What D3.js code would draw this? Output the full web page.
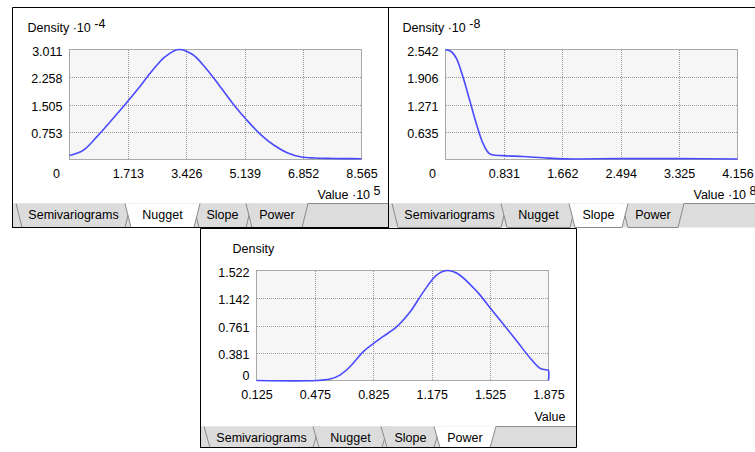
<!DOCTYPE html>
<html><head><meta charset="utf-8">
<script src="https://cdn.jsdelivr.net/npm/d3@7"></script>
<style>
html,body{margin:0;padding:0;background:#fff;}
svg{display:block;font-family:"Liberation Sans",Arial,sans-serif;}
</style></head><body>
<svg id="c" width="755" height="452"></svg>
<script>
// ---------------- data ----------------
const tabNames = ["Semivariograms", "Nugget", "Slope", "Power"];

// Nugget: value x10^5, density x10^-4
const nuggetX = [0, 0.4, 0.8, 1.2, 1.6, 2.0, 2.4, 2.8, 3.2, 3.6, 4.0, 4.4, 4.8, 5.2, 5.6, 6.0, 6.4, 6.8, 7.2, 7.6, 8.0, 8.565];
const nuggetY = [0.11, 0.25, 0.62, 1.04, 1.47, 1.92, 2.40, 2.81, 3.011, 2.88, 2.50, 2.02, 1.52, 1.08, 0.69, 0.39, 0.18, 0.07, 0.04, 0.03, 0.025, 0.02];
const nuggetXTicks = [0, 1.713, 3.426, 5.139, 6.852, 8.565];
const nuggetYTicks = [0.753, 1.505, 2.258, 3.011];

// Slope: value x10^8, density x10^-8
const slopeX = [0, 0.085, 0.157, 0.25, 0.346, 0.44, 0.537, 0.63, 0.82, 1.1, 1.39, 1.68, 2.49, 3.3, 4.156];
const slopeY = [2.542, 2.49, 2.33, 1.90, 1.36, 0.82, 0.36, 0.13, 0.09, 0.07, 0.04, 0.015, 0.02, 0.02, 0.01];
const slopeXTicks = [0, 0.831, 1.662, 2.494, 3.325, 4.156];
const slopeYTicks = [0.635, 1.271, 1.906, 2.542];

// Power
const powerX = [0.125, 0.485, 0.565, 0.625, 0.685, 0.765, 0.825, 0.885, 0.966, 1.046, 1.126, 1.206, 1.266, 1.327, 1.447, 1.527, 1.607, 1.687, 1.767, 1.827, 1.867, 1.875, 1.875];
const powerY = [0, 0, 0.02, 0.075, 0.19, 0.40, 0.51, 0.61, 0.745, 0.95, 1.23, 1.46, 1.522, 1.485, 1.23, 1.0, 0.77, 0.54, 0.305, 0.165, 0.145, 0.14, 0];
const powerXTicks = [0.125, 0.475, 0.825, 1.175, 1.525, 1.875];
const powerYTicks = [0, 0.381, 0.761, 1.142, 1.522];

// ---------------- layout ----------------
const FONT = 12.5;
const tabGeom = [[4, 119], [113, 188], [181, 240], [234, 296]]; // relative to panel left (top edge)
const panels = [
  {box: {x0: 12.5, y0: 7.5, x1: 388.5, y1: 227.5}, bottomBorder: true, barTop: 203.5,
   xr: [69.5, 361.5], yr: [159.5, 49.5], xs: nuggetX, ys: nuggetY, xt: nuggetXTicks, yt: nuggetYTicks,
   yLabel: "Density ·10", yExp: "-4", xLabel: "Value ·10", xExp: "5", sel: 1, dLabelDx: -42, vLabelDx: 19, vLabelDy: 39},
  {box: {x0: 388.5, y0: 7.5, x1: 764.5, y1: 227.5}, bottomBorder: false, barTop: 203.5,
   xr: [445.5, 737.5], yr: [159.5, 49.5], xs: slopeX, ys: slopeY, xt: slopeXTicks, yt: slopeYTicks,
   yLabel: "Density ·10", yExp: "-8", xLabel: "Value ·10", xExp: "8", sel: 2, dLabelDx: -43, vLabelDx: 19, vLabelDy: 39},
  {box: {x0: 200.5, y0: 228.5, x1: 576.5, y1: 447.5}, bottomBorder: true, barTop: 426.5,
   xr: [256.5, 548.5], yr: [380.5, 270.5], xs: powerX, ys: powerY, xt: powerXTicks, yt: powerYTicks,
   yLabel: "Density", yExp: null, xLabel: "Value", xExp: null, sel: 3, dLabelDx: -24, vLabelDx: 17, vLabelDy: 40}
];

const svg = d3.select("#c");
const fmt = d3.format(".3f");

panels.forEach(p => {
  const g = svg.append("g");
  const x = d3.scaleLinear().domain([p.xt[0], p.xt[p.xt.length - 1]]).range(p.xr);
  const y = d3.scaleLinear().domain([0, p.yt[p.yt.length - 1]]).range(p.yr);

  // ---- tab bar ----
  const bx0 = p.box.x0, bx1 = p.box.x1, bt = p.barTop, bb = p.box.y1;
  g.append("rect").attr("x", bx0).attr("y", bt).attr("width", bx1 - bx0).attr("height", bb - bt).attr("fill", "#dcdcdc");
  const slant = 6;
  const order = tabNames.map((n, i) => i).filter(i => i !== p.sel).concat([p.sel]);
  order.forEach(i => {
    const tx0 = bx0 + tabGeom[i][0] - 0.5, tx1 = bx0 + tabGeom[i][1] - 0.5;
    const shape = `M${tx0},${bt} L${tx0 + slant},${bb} L${tx1 - slant},${bb} L${tx1},${bt}`;
    g.append("path").attr("d", shape + "Z").attr("fill", i === p.sel ? "#ffffff" : "#dcdcdc").attr("stroke", "none");
    g.append("path").attr("d", shape).attr("fill", "none").attr("stroke", "#8a8a8a").attr("stroke-width", 1);
    g.append("text").attr("x", (tx0 + tx1) / 2).attr("y", bt + 15.5).attr("text-anchor", "middle")
      .attr("font-size", FONT).attr("fill", "#000").text(tabNames[i]);
  });
  const lastRight = bx0 + tabGeom[3][1] - 0.5;
  g.append("line").attr("x1", lastRight).attr("x2", bx1).attr("y1", bt).attr("y2", bt).attr("stroke", "#8a8a8a");

  // ---- plot area ----
  g.append("rect").attr("x", p.xr[0]).attr("y", p.yr[1]).attr("width", p.xr[1] - p.xr[0]).attr("height", p.yr[0] - p.yr[1])
    .attr("fill", "#f6f6f6");
  // grid (dotted)
  g.append("g").selectAll("line").data(p.xt.slice(1, -1)).join("line")
    .attr("x1", d => Math.round(x(d)) + 0.5).attr("x2", d => Math.round(x(d)) + 0.5)
    .attr("y1", p.yr[1] + 0.5).attr("y2", p.yr[0] - 0.5)
    .attr("stroke", "#999").attr("stroke-dasharray", "1,1").attr("shape-rendering", "crispEdges");
  g.append("g").selectAll("line").data(p.yt.filter(d => d > 0).slice(0, -1)).join("line")
    .attr("y1", d => Math.round(y(d)) + 0.5).attr("y2", d => Math.round(y(d)) + 0.5)
    .attr("x1", p.xr[0] + 0.5).attr("x2", p.xr[1] - 0.5)
    .attr("stroke", "#999").attr("stroke-dasharray", "1,1").attr("shape-rendering", "crispEdges");
  g.append("rect").attr("x", p.xr[0]).attr("y", p.yr[1]).attr("width", p.xr[1] - p.xr[0]).attr("height", p.yr[0] - p.yr[1])
    .attr("fill", "none").attr("stroke", "#a8a8a8");

  // curve
  const pts = p.xs.map((v, i) => [v, p.ys[i]]);
  const line = d3.line().x(d => x(d[0])).y(d => y(d[1])).curve(d3.curveCatmullRom.alpha(0.5));
  g.append("path").attr("d", line(pts)).attr("fill", "none").attr("stroke", "#4a4aff").attr("stroke-width", 1.6);

  // axes
  const xa = g.append("g").attr("transform", `translate(0,${p.yr[0]})`)
    .call(d3.axisBottom(x).tickValues(p.xt).tickFormat(d => d === 0 ? "0" : fmt(d)).tickSize(0).tickPadding(10));
  const ya = g.append("g").attr("transform", `translate(${p.xr[0]},0)`)
    .call(d3.axisLeft(y).tickValues(p.yt).tickFormat(d => d === 0 ? "0" : fmt(d)).tickSize(0).tickPadding(7));
  [xa, ya].forEach(a => {
    a.select(".domain").remove();
    a.selectAll("text").attr("font-size", FONT).attr("font-family", "Liberation Sans, Arial, sans-serif").attr("fill", "#000");
  });
  ya.selectAll("text").attr("dy", "0.45em");
  xa.selectAll(".tick").filter(d => d === 0).select("text").attr("text-anchor", "end").attr("x", -10);
  ya.selectAll(".tick").filter(d => d === 0).select("text").attr("dy", "-0.05em");

  // axis titles
  const dt = g.append("text").attr("x", p.xr[0] + p.dLabelDx).attr("y", p.yr[1] - 18).attr("font-size", FONT).attr("fill", "#000");
  dt.append("tspan").text(p.yLabel);
  if (p.yExp) { dt.append("tspan").text(" "); dt.append("tspan").attr("dy", -3.5).text(p.yExp); }
  const vt = g.append("text").attr("x", p.xr[1] + p.vLabelDx).attr("y", p.yr[0] + p.vLabelDy).attr("text-anchor", "end")
    .attr("font-size", FONT).attr("fill", "#000");
  vt.append("tspan").text(p.xLabel);
  if (p.xExp) { vt.append("tspan").text(" "); vt.append("tspan").attr("dy", -3.5).text(p.xExp); }

  // panel borders
  const b = p.box;
  const bl = [[b.x0, b.y0, b.x1, b.y0], [b.x0, b.y0, b.x0, b.y1 + 0.5], [b.x1, b.y0, b.x1, b.y1]];
  if (p.bottomBorder) bl.push([b.x0, b.y1, b.x1, b.y1]);
  g.append("g").selectAll("line").data(bl).join("line")
    .attr("x1", d => d[0]).attr("y1", d => d[1]).attr("x2", d => d[2]).attr("y2", d => d[3])
    .attr("stroke", "#000").attr("stroke-width", 1);
});
</script>
</body></html>
